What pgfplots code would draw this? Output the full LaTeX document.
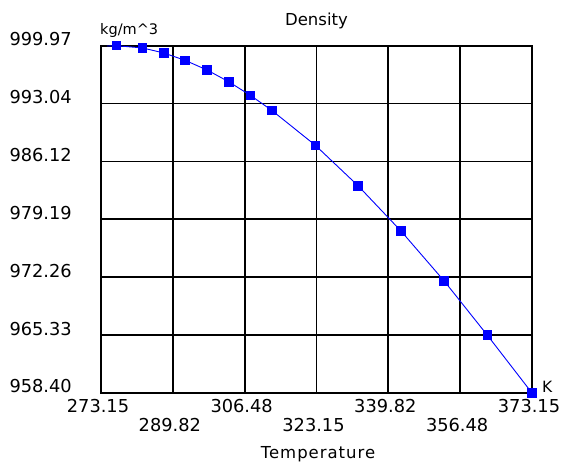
\documentclass[border=0pt]{standalone}
\usepackage{fontspec}
\setmainfont{DejaVu Sans}
\usepackage{pgfplots}
\pgfplotsset{compat=1.18}
\begin{document}
\begin{tikzpicture}[x=1pt,y=1pt]
\path[use as bounding box] (-101,-69) rectangle (460,393);
\begin{axis}[
  at={(0,0)}, anchor=south west,
  scale only axis, width=431pt, height=347.3pt,
  xmin=273.15, xmax=373.15, ymin=958.40, ymax=999.97,
  clip=false,
  axis line style={black, line width=1.7pt},
  grid=major,
  major grid style={black, line width=1.7pt},
  major tick length=0pt,
  xtick={273.15,306.4833,339.8167,373.15},
  xticklabels={273.15,306.48,339.82,373.15},
  extra x ticks={289.8167,323.15,356.4833},
  extra x tick labels={289.82,323.15,356.48},
  extra x tick style={xticklabel style={yshift=-19pt}},
  ytick={958.40,965.3283,972.2567,979.185,986.1133,993.0417,999.97},
  yticklabels={958.40,965.33,972.26,979.19,986.12,993.04,999.97},
  xticklabel style={anchor=north, inner sep=0pt, yshift=-6pt, xshift=-3pt, font=\fontsize{17.8}{20}\selectfont},
  yticklabel style={anchor=base east, inner sep=0pt, xshift=-29pt, font=\fontsize{17.8}{20}\selectfont},
]
\addplot[blue, line width=0.9pt, no marks] coordinates {
(274.5,999.93) (276.7,999.97)
};
\addplot[blue, line width=0.9pt, mark=square*, mark size=4.3pt, mark options={fill=blue, draw=blue, line width=0pt}] coordinates {
(276.7,999.97)
(282.8,999.70)
(287.7,999.10)
(292.7,998.21)
(297.8,997.05)
(302.8,995.65)
(307.8,994.03)
(312.8,992.22)
(322.9,988.04)
(332.8,983.20)
(342.8,977.76)
(352.8,971.79)
(362.8,965.31)
(373.15,958.40)
};
\node[anchor=base, inner sep=0pt, font=\fontsize{16.5}{18}\selectfont] at (rel axis cs:0.5,1) [yshift=19.7pt] {Density};
\node[anchor=base, inner sep=0pt, font=\addfontfeatures{LetterSpace=6}\fontsize{16.5}{18}\selectfont] at (rel axis cs:0.5,0) [yshift=-65.3pt, xshift=1.5pt] {Temperature};
\node[anchor=base west, inner sep=0pt, font=\fontsize{14.5}{16}\selectfont] at (rel axis cs:0,1) [yshift=11.4pt, xshift=-1pt] {kg/m\textasciicircum 3};
\node[anchor=base west, inner sep=0pt, font=\fontsize{15.5}{17}\selectfont] at (rel axis cs:1,0) [xshift=10pt] {K};
\end{axis}
\end{tikzpicture}
\end{document}
